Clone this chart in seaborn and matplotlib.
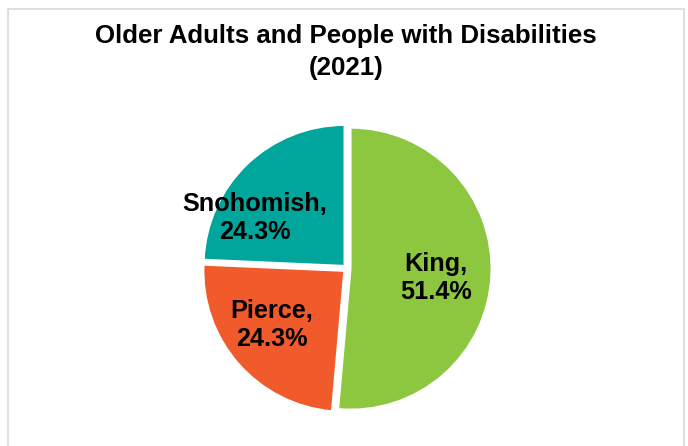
import matplotlib
matplotlib.use("Agg")
import matplotlib.pyplot as plt
from matplotlib.patches import Rectangle
import seaborn as sns

counties = ["King", "Pierce", "Snohomish"]
shares = [51.4, 24.3, 24.3]
colors = ["#8DC63F", "#F15A2B", "#00A69C"]
title = "Older Adults and People with Disabilities\n(2021)"

sns.set_theme(style="white")
plt.rcParams["font.family"] = ["Liberation Sans", "DejaVu Sans"]

fig = plt.figure(figsize=(6.88, 4.46), dpi=100)

# light grey chart-area frame (bottom edge runs off the image)
fig.patches.append(Rectangle((8 / 688, -0.1), 676 / 688, 1.1 - 9 / 446,
                             transform=fig.transFigure, fill=False,
                             edgecolor="#d9d9d9", linewidth=1.2))

fig.text(0.503, 1 - 52 / 446, title, ha="center", va="center",
         fontsize=18.6, fontweight="bold", color="black", linespacing=1.38)

# pie axes: centre (347, 268.5) px, radius 141 px
r_px = 141
lim = 1.15
side = 2 * lim * r_px
cx, cy = 347, 268.5
ax = fig.add_axes([(cx - side / 2) / 688, (446 - cy - side / 2) / 446,
                   side / 688, side / 446])

wedges, _ = ax.pie(shares, colors=colors, startangle=90, counterclock=False,
                   explode=[0.025] * len(shares),
                   wedgeprops=dict(edgecolor="white", linewidth=1.5))
ax.set_xlim(-lim, lim)
ax.set_ylim(-lim, lim)
ax.set_aspect("equal")
ax.axis("off")

label_pos = [(0.631, -0.067), (-0.532, -0.40), (-0.652, 0.358)]
for name, val, (x, y) in zip(counties, shares, label_pos):
    ax.text(x, y, f"{name},\n{val:.1f}%", ha="center", va="center",
            fontsize=18.2, fontweight="bold", color="black", linespacing=1.2)

fig.savefig("out.png", dpi=100)
